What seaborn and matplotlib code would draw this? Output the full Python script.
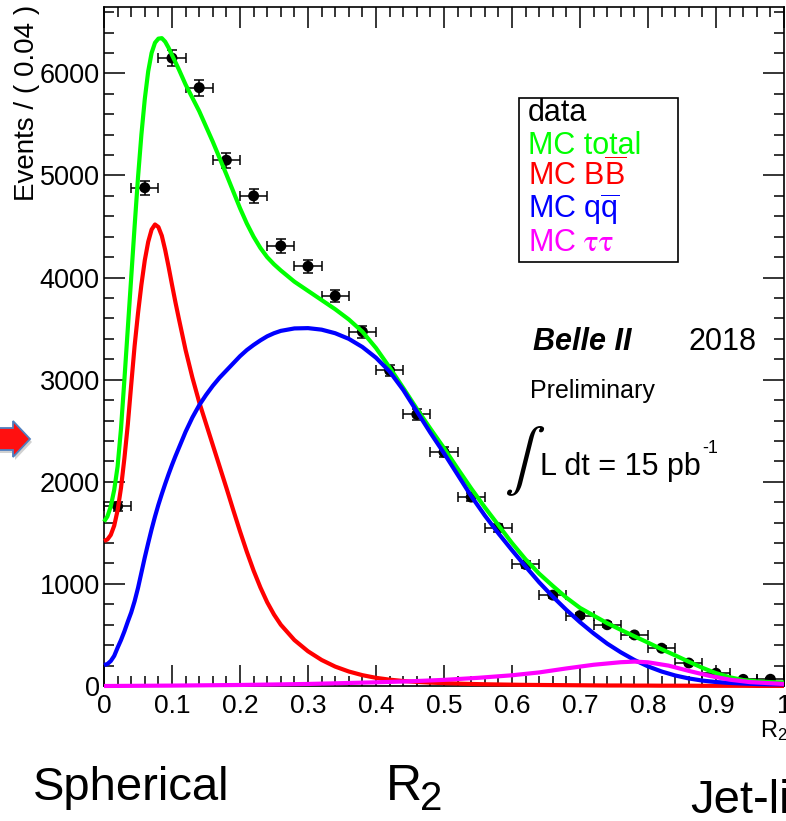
import numpy as np
import pandas as pd
import matplotlib
matplotlib.use("Agg")
import matplotlib.pyplot as plt
import seaborn as sns
from matplotlib.patches import Polygon, Rectangle
from matplotlib.ticker import FixedLocator, MultipleLocator

# ---- binned data (bin width 0.04 in R2) ----
bin_width = 0.04
data_r2 = [0.02, 0.06, 0.10, 0.14, 0.18, 0.22, 0.26, 0.30, 0.34, 0.38,
           0.42, 0.46, 0.50, 0.54, 0.58, 0.62, 0.66, 0.70, 0.74, 0.78,
           0.82, 0.86, 0.90, 0.94, 0.98]
data_counts = [1760, 4880, 6150, 5860, 5150, 4800, 4310, 4110, 3820, 3470,
               3090, 2660, 2290, 1850, 1550, 1190, 890, 690, 600, 500,
               370, 225, 125, 65, 66]
data_err = [42, 70, 78, 77, 72, 69, 66, 64, 62, 59,
            56, 52, 48, 43, 39, 34, 30, 26, 24, 22,
            19, 15, 11, 8, 8]

# ---- MC shapes sampled along R2 ----
curve_r2 = [0.000, 0.005, 0.010, 0.015, 0.020, 0.025, 0.030, 0.035, 0.040, 0.045,
            0.050, 0.055, 0.060, 0.065, 0.070, 0.075, 0.080, 0.085, 0.090, 0.095,
            0.100, 0.105, 0.110, 0.120, 0.130, 0.140, 0.150, 0.160, 0.170, 0.180,
            0.190, 0.200, 0.210, 0.220, 0.230, 0.240, 0.250, 0.260, 0.280, 0.300,
            0.320, 0.340, 0.360, 0.380, 0.400, 0.420, 0.440, 0.460, 0.480, 0.500,
            0.520, 0.540, 0.560, 0.580, 0.600, 0.620, 0.640, 0.660, 0.680, 0.700,
            0.720, 0.740, 0.760, 0.780, 0.800, 0.820, 0.840, 0.860, 0.880, 0.900,
            0.920, 0.940, 0.960, 0.980, 1.000]
mc_total = [1610, 1660, 1760, 1920, 2150, 2520, 3000, 3500, 4000, 4500,
            4980, 5400, 5750, 6020, 6200, 6300, 6340, 6345, 6310, 6250,
            6180, 6110, 6040, 5890, 5760, 5630, 5480, 5330, 5170, 5010,
            4845, 4680, 4530, 4400, 4290, 4200, 4130, 4070, 3960, 3870,
            3780, 3690, 3590, 3470, 3310, 3120, 2920, 2715, 2520, 2330,
            2130, 1935, 1750, 1575, 1400, 1240, 1100, 980, 865, 765,
            690, 615, 550, 487, 425, 360, 300, 238, 178, 126,
            86, 58, 45, 38, 35]
mc_bb = [1420, 1435, 1480, 1570, 1720, 1940, 2230, 2560, 2950, 3330,
         3650, 3930, 4170, 4350, 4470, 4520, 4495, 4410, 4270, 4105,
         3930, 3760, 3600, 3290, 3020, 2780, 2570, 2360, 2150, 1940,
         1725, 1515, 1315, 1130, 965, 820, 700, 600, 450, 340,
         255, 190, 142, 106, 80, 62, 49, 40, 33, 28,
         24, 20, 17, 15, 13, 11, 10, 9, 8, 7,
         6, 5, 5, 4, 4, 3, 3, 3, 2, 2,
         2, 2, 1, 1, 1]
mc_qq = [206, 215, 245, 295, 375, 450, 535, 630, 720, 830,
         960, 1110, 1260, 1400, 1535, 1660, 1775, 1880, 1980, 2075,
         2165, 2250, 2330, 2490, 2630, 2750, 2850, 2940, 3020, 3090,
         3160, 3230, 3290, 3340, 3385, 3425, 3455, 3478, 3502, 3505,
         3490, 3455, 3400, 3320, 3215, 3080, 2900, 2690, 2480, 2280,
         2070, 1860, 1670, 1495, 1330, 1170, 1015, 875, 745, 625,
         515, 415, 330, 255, 192, 142, 103, 74, 53, 39,
         30, 24, 19, 16, 15]
tau_r2 = [0.00, 0.10, 0.20, 0.30, 0.40, 0.45, 0.50, 0.55, 0.60, 0.64,
          0.68, 0.72, 0.76, 0.78, 0.80, 0.83, 0.86, 0.89, 0.92, 0.95,
          1.00]
mc_tautau = [0, 4, 10, 20, 36, 46, 60, 80, 105, 133,
             172, 208, 233, 239, 232, 200, 148, 100, 62, 38,
             20]

# ---- axis ticks and labels ----
x_ticks = [0.0, 0.1, 0.2, 0.3, 0.4, 0.5, 0.6, 0.7, 0.8, 0.9, 1.0]
x_tick_labels = ["0", "0.1", "0.2", "0.3", "0.4", "0.5", "0.6", "0.7", "0.8", "0.9", "1"]
y_ticks = [0, 1000, 2000, 3000, 4000, 5000, 6000]
y_tick_labels = ["0", "1000", "2000", "3000", "4000", "5000", "6000"]

legend_labels = ["data", "MC total", r"MC B$\overline{\mathrm{B}}$",
                 r"MC q$\overline{\mathrm{q}}$", r"MC $\mathrm{\tau\tau}$"]
legend_colors = ["black", "#00ff00", "#ff0000", "#0000ff", "#ff00ff"]

W, H = 786, 821

sns.set_theme(style="ticks")
plt.rcParams.update({
    "mathtext.fontset": "custom",
    "mathtext.rm": "Liberation Sans",
    "mathtext.it": "Liberation Sans:italic",
    "mathtext.bf": "Liberation Sans:bold",
    "axes.linewidth": 1.2,
    "text.color": "black",
    "axes.labelcolor": "black",
    "xtick.color": "black",
    "ytick.color": "black",
})
plt.rcParams["font.family"] = ["Liberation Sans", "DejaVu Sans"]


def fx(px):
    return px / W


def fy(py):
    return 1 - py / H


fig = plt.figure(figsize=(W / 100, H / 100), dpi=100)
fig.patch.set_facecolor("white")
ax = fig.add_axes([fx(104), fy(686), (784 - 104) / W, (686 - 7) / H])
ax.set_facecolor("white")

# data points with Poisson errors and bin-width bars
ax.errorbar(data_r2, data_counts, xerr=bin_width / 2, yerr=data_err, fmt="none",
            ecolor="black", elinewidth=1.1, capsize=3.5, capthick=1.1, zorder=2)
sns.scatterplot(x=data_r2, y=data_counts, color="black", s=62, edgecolor="none",
                ax=ax, zorder=2.5, legend=False)

# MC components
curve_sets = [
    (curve_r2, mc_total, "#00ff00"),
    (curve_r2, mc_bb, "#ff0000"),
    (curve_r2, mc_qq, "#0000ff"),
    (tau_r2, mc_tautau, "#ff00ff"),
]
for xs, ys, col in curve_sets:
    frame = pd.DataFrame({"R2": xs, "events": ys})
    sns.lineplot(data=frame, x="R2", y="events", color=col, linewidth=3.0,
                 estimator=None, errorbar=None, legend=False, ax=ax, zorder=3)
for line in ax.lines:
    line.set_clip_on(False)
    line.set_solid_joinstyle("round")
    line.set_solid_capstyle("butt")

ax.set_xlim(0, 1)
ax.set_ylim(0, 6650)
ax.xaxis.set_major_locator(FixedLocator(x_ticks))
ax.set_xticklabels(x_tick_labels)
ax.yaxis.set_major_locator(FixedLocator(y_ticks))
ax.set_yticklabels(y_tick_labels)
ax.xaxis.set_minor_locator(MultipleLocator(0.02))
ax.yaxis.set_minor_locator(MultipleLocator(200))
ax.tick_params(which="both", direction="in", top=True, right=True, width=1.1)
ax.tick_params(which="major", length=15)
ax.tick_params(which="minor", length=7.5)
ax.tick_params(axis="x", which="major", labelsize=19, pad=6)
ax.tick_params(axis="y", which="major", labelsize=19.5, pad=3)
for sp in ax.spines.values():
    sp.set_color("black")
    sp.set_linewidth(1.2)

ax.set_ylabel("Events / ( 0.04 )", fontsize=20, loc="top")
ax.yaxis.set_label_coords(-0.094, 1.003)
ax.set_xlabel(r"R$_2$", fontsize=17, loc="right")
ax.xaxis.set_label_coords(1.005, -0.048)

# legend: coloured entry names inside a plain box
fig.add_artist(Rectangle((fx(519), fy(262)), fx(678) - fx(519), fy(98) - fy(262),
                         transform=fig.transFigure, facecolor="white",
                         edgecolor="black", linewidth=1.2, zorder=5))
for i, (label, col) in enumerate(zip(legend_labels, legend_colors)):
    t = fig.text(fx(528), fy(121 + 32.5 * i), label, fontsize=22, color=col,
                 va="baseline", ha="left", zorder=6)
    if "tau" in label:
        t.set_math_fontfamily("stix")

# experiment annotations
fig.text(fx(533), fy(350), "Belle II", fontsize=22, fontweight="bold", style="italic",
         va="baseline", ha="left")
fig.text(fx(688), fy(350), "2018", fontsize=22, va="baseline", ha="left")
fig.text(fx(530), fy(398), "Preliminary", fontsize=18, va="baseline", ha="left")
fig.text(fx(525), fy(461), r"$\int$", fontsize=44, math_fontfamily="stix",
         va="center", ha="center")
fig.text(fx(540), fy(475), "L dt = 15 pb", fontsize=22, va="baseline", ha="left")
fig.text(fx(702), fy(453), "-1", fontsize=13, va="baseline", ha="left")

# bottom captions
fig.text(fx(33), fy(800), "Spherical", fontsize=34, va="baseline", ha="left")
fig.text(fx(386), fy(800), "R", fontsize=36, va="baseline", ha="left")
fig.text(fx(420), fy(810), "2", fontsize=29, va="baseline", ha="left")
fig.text(fx(690), fy(813), "Jet-like", fontsize=34, va="baseline", ha="left")

# block arrow on the left edge
arrow_px = [(-5, 428), (13, 428), (13, 421), (30, 439), (13, 457), (13, 450), (-5, 450)]
shadow = Polygon([(fx(x + 2), fy(y + 3)) for x, y in arrow_px], closed=True,
                 transform=fig.transFigure, facecolor="black", edgecolor="none", alpha=0.18)
arrow = Polygon([(fx(x), fy(y)) for x, y in arrow_px], closed=True,
                transform=fig.transFigure, facecolor="#ff1010", edgecolor="#4f7fbf",
                linewidth=1.3)
fig.add_artist(shadow)
fig.add_artist(arrow)

fig.savefig("out.png", dpi=100, facecolor="white")
